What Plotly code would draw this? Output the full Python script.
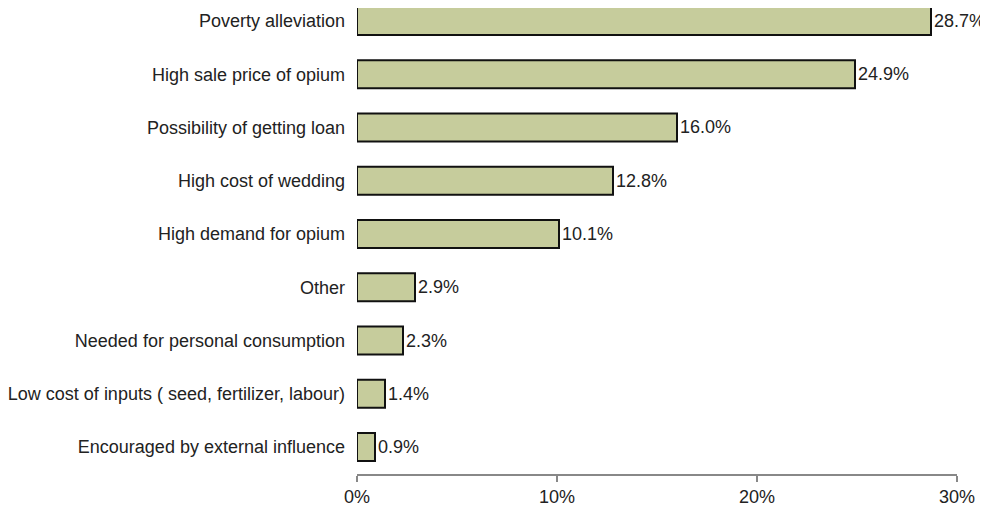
import plotly.graph_objects as go

categories = [
    "Poverty alleviation",
    "High sale price of opium",
    "Possibility of getting loan",
    "High cost of wedding",
    "High demand for opium",
    "Other",
    "Needed for personal consumption",
    "Low cost of inputs ( seed, fertilizer, labour)",
    "Encouraged by external influence",
]
values = [28.7, 24.9, 16.0, 12.8, 10.1, 2.9, 2.3, 1.4, 0.9]
tick_vals = [0, 10, 20, 30]
tick_text = ["0%", "10%", "20%", "30%"]

FONT = "Liberation Sans, Arial"

fig = go.Figure(go.Bar(
    x=values,
    y=categories,
    orientation="h",
    marker=dict(color="#c6cc9c", line=dict(color="#111111", width=2)),
    text=[f"{v:.1f}%" for v in values],
    textposition="outside",
    textfont=dict(family=FONT, size=18, color="#222222"),
    cliponaxis=False,
))

fig.update_layout(
    width=980, height=502,
    margin=dict(l=349, r=31, t=0, b=36),
    paper_bgcolor="white", plot_bgcolor="white",
    bargap=0.47,
    showlegend=False,
    font=dict(family=FONT, size=18, color="#222222"),
    xaxis=dict(
        range=[0, 30], tickvals=tick_vals, ticktext=tick_text,
        showgrid=False, zeroline=False, automargin=False,
        showline=True, linecolor="#888888", linewidth=1.5,
        ticks="outside", ticklen=6, tickcolor="#888888", tickwidth=1.5,
        tickfont=dict(size=18, color="#222222"),
    ),
    yaxis=dict(
        categoryorder="array", categoryarray=categories,
        range=[8.507, -0.244],
        showgrid=False, zeroline=False, showline=False, automargin=False,
        ticks="", ticklabelstandoff=11,
        tickfont=dict(size=18, color="#222222"),
    ),
)

fig.write_html("out.html")
